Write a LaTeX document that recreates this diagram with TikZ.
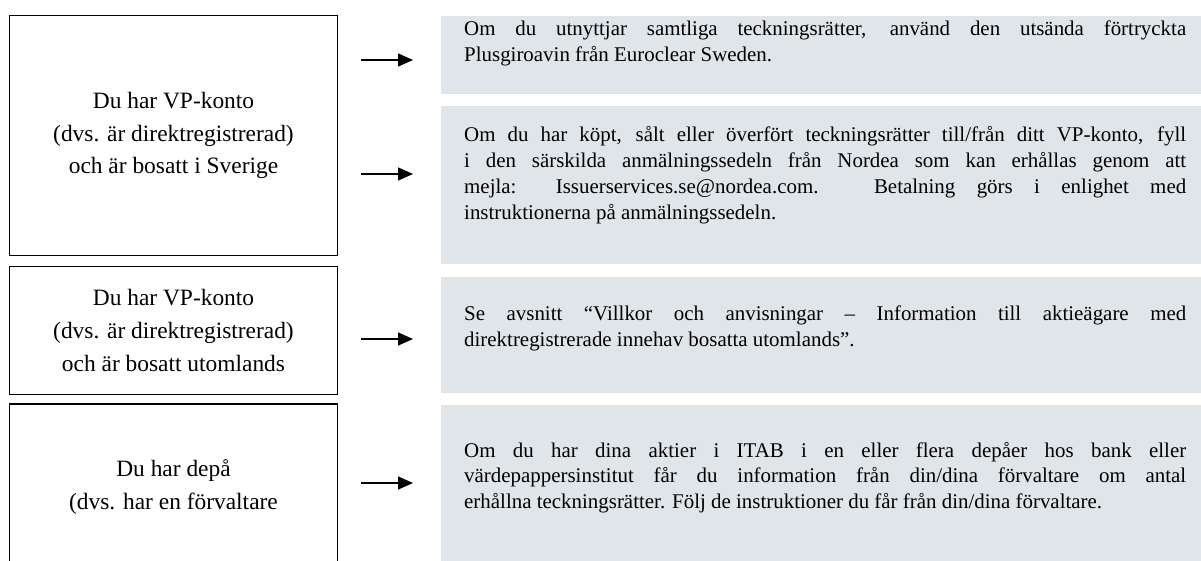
\documentclass[tikz,border=0pt]{standalone}
\usepackage{fontspec}
\setmainfont{Liberation Serif}
\usetikzlibrary{arrows.meta}
\definecolor{boxgray}{RGB}{223,229,232}
\newcommand{\justsetup}{\tolerance=10000\relax\hyphenpenalty=10000\relax\exhyphenpenalty=10000\relax}
\tikzset{
  leftbox/.style={draw=black, line width=1.6bp, fill=white, align=center, inner sep=0pt,
    font=\fontsize{23.5}{33}\selectfont},
  infobox/.style={fill=boxgray, draw=none, inner sep=0pt, anchor=north west, minimum width=760bp},
  infotext/.style={text width=722bp, inner sep=0pt, align=justify, anchor=base west,
    font=\fontsize{21}{25.8}\selectfont, execute at begin node=\justsetup},
  flowarrow/.style={line width=1.5bp, -{Triangle[length=15bp,width=13bp]}},
}
\begin{document}
\begin{tikzpicture}[x=1bp,y=-1bp]
\useasboundingbox (0,0) rectangle (1201,561);
\clip (0,0) rectangle (1201,561);

% right info boxes
\node[infobox, minimum height=78bp] (r1) at (441,16) {};
\node[infobox, minimum height=158bp] (r2) at (441,106) {};
\node[infobox, minimum height=116bp] (r3) at (441,277) {};
\node[infobox, minimum height=160bp] (r4) at (441,405) {};

\node[infotext] (t1) at (464,36) {Om du utnyttjar samtliga teckningsrätter, använd den utsända förtryckta\linebreak Plusgiroavin från Euroclear Sweden.};
\node[infotext] (t2) at (464,142) {Om du har köpt, sålt eller överfört teckningsrätter till/från ditt VP-konto, fyll\linebreak i den särskilda anmälningssedeln från Nordea som kan erhållas genom att\linebreak mejla: Issuerservices.se@nordea.com. Betalning görs i enlighet med\linebreak instruktionerna på anmälningssedeln.};
\node[infotext] (t3) at (464,321) {Se avsnitt “Villkor och anvisningar – Information till aktieägare med\linebreak direktregistrerade innehav bosatta utomlands”.};
\node[infotext] (t4) at (464,457) {Om du har dina aktier i ITAB i en eller flera depåer hos bank eller\linebreak värdepappersinstitut får du information från din/dina förvaltare om antal\linebreak erhållna teckningsrätter. Följ de instruktioner du får från din/dina förvaltare.};

% left boxes
\node[leftbox, minimum width=328bp, minimum height=240bp] (l1) at (173.5,135.5)
  {Du har VP-konto\\(dvs. är direktregistrerad)\\och är bosatt i Sverige};
\node[leftbox, minimum width=328bp, minimum height=128bp] (l2) at (173.5,330.5)
  {Du har VP-konto\\(dvs. är direktregistrerad)\\och är bosatt utomlands};
\node[leftbox, minimum width=328bp, minimum height=166bp] (l3) at (173.5,487)
  {Du har depå\\(dvs. har en förvaltare};

% arrows
\coordinate (a1s) at (361,60);  \coordinate (a1e) at (413,60);
\coordinate (a2s) at (361,174); \coordinate (a2e) at (413,174);
\coordinate (a3s) at (361,339); \coordinate (a3e) at (413,339);
\coordinate (a4s) at (361,483); \coordinate (a4e) at (413,483);
\draw[flowarrow] (a1s) -- (a1e);
\draw[flowarrow] (a2s) -- (a2e);
\draw[flowarrow] (a3s) -- (a3e);
\draw[flowarrow] (a4s) -- (a4e);
\end{tikzpicture}
\end{document}
